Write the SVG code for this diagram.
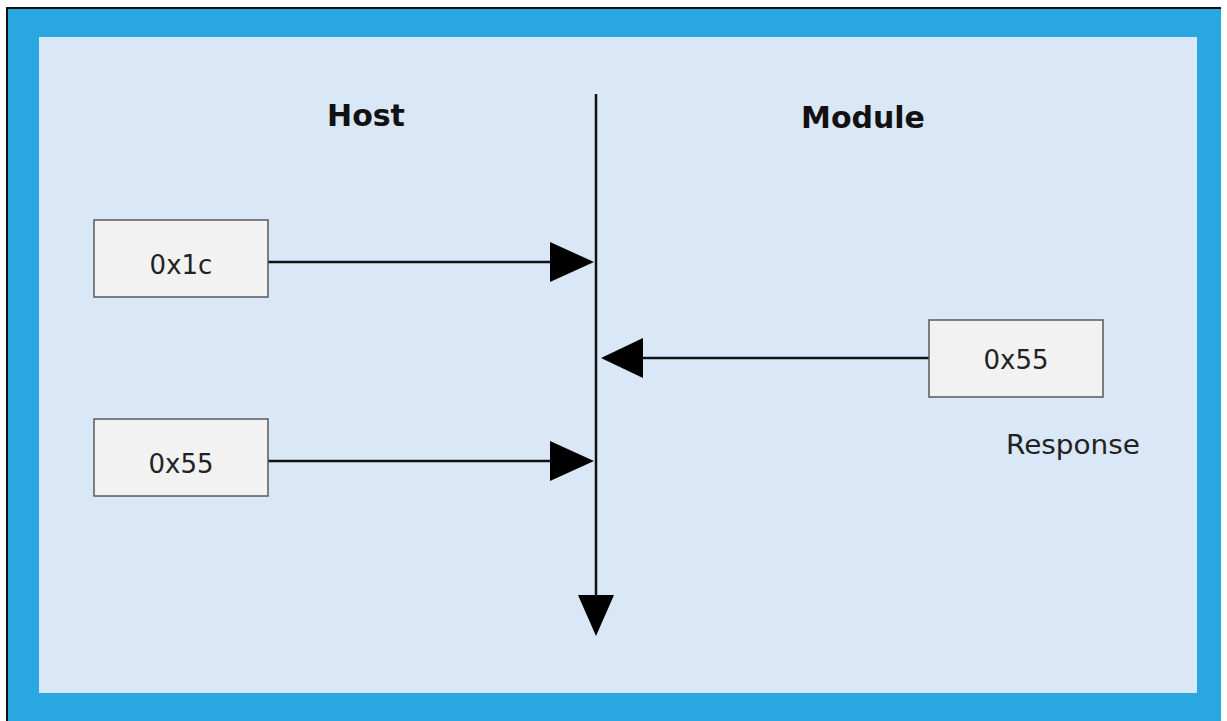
<svg xmlns="http://www.w3.org/2000/svg" width="1227" height="721" viewBox="0 0 1227 721">
  <defs>
    <style>
      .frame { fill: #29a7e0; }
      .panel { fill: #d9e7f6; }
      .box { fill: #f2f2f2; stroke: #595959; stroke-width: 1.5; }
      .label { font-family: "DejaVu Sans", Verdana, sans-serif; font-size: 26px; fill: #222; text-anchor: middle; }
      .title { font-family: "DejaVu Sans", Verdana, sans-serif; font-size: 30px; font-weight: bold; fill: #111; text-anchor: middle; }
      .wire { stroke: #111; stroke-width: 2.5; fill: none; }
      .head { fill: #000; }
    </style>
  </defs>

  <!-- background and blue frame -->
  <rect x="0" y="0" width="1227" height="721" fill="#ffffff"/>
  <rect class="frame" x="7" y="8" width="1214" height="713"/>
  <path d="M7 721 V8 H1221" fill="none" stroke="#111" stroke-width="2"/>
  <rect class="panel" x="39" y="37" width="1158" height="656"/>

  <!-- column titles -->
  <text class="title" x="366" y="126">Host</text>
  <text class="title" x="863" y="128">Module</text>

  <!-- connectors -->
  <g id="connectors">
    <line class="wire" x1="596" y1="94" x2="596" y2="598"/>
    <polygon class="head" points="578,595 614,595 596,636"/>

    <line class="wire" x1="268" y1="262" x2="552" y2="262"/>
    <polygon class="head" points="550,242 550,282 594,262"/>

    <line class="wire" x1="929" y1="358" x2="640" y2="358"/>
    <polygon class="head" points="643,338 643,378 601,358"/>

    <line class="wire" x1="268" y1="461" x2="552" y2="461"/>
    <polygon class="head" points="550,441 550,481 594,461"/>
  </g>

  <!-- nodes -->
  <g id="node-host-0x1c">
    <rect class="box" x="94" y="220" width="174" height="77"/>
    <text class="label" x="181" y="274">0x1c</text>
  </g>
  <g id="node-host-0x55">
    <rect class="box" x="94" y="419" width="174" height="77"/>
    <text class="label" x="181" y="473">0x55</text>
  </g>
  <g id="node-module-0x55">
    <rect class="box" x="929" y="320" width="174" height="77"/>
    <text class="label" x="1016" y="369">0x55</text>
    <text class="label" x="1073" y="454" textLength="134" lengthAdjust="spacingAndGlyphs">Response</text>
  </g>
</svg>
